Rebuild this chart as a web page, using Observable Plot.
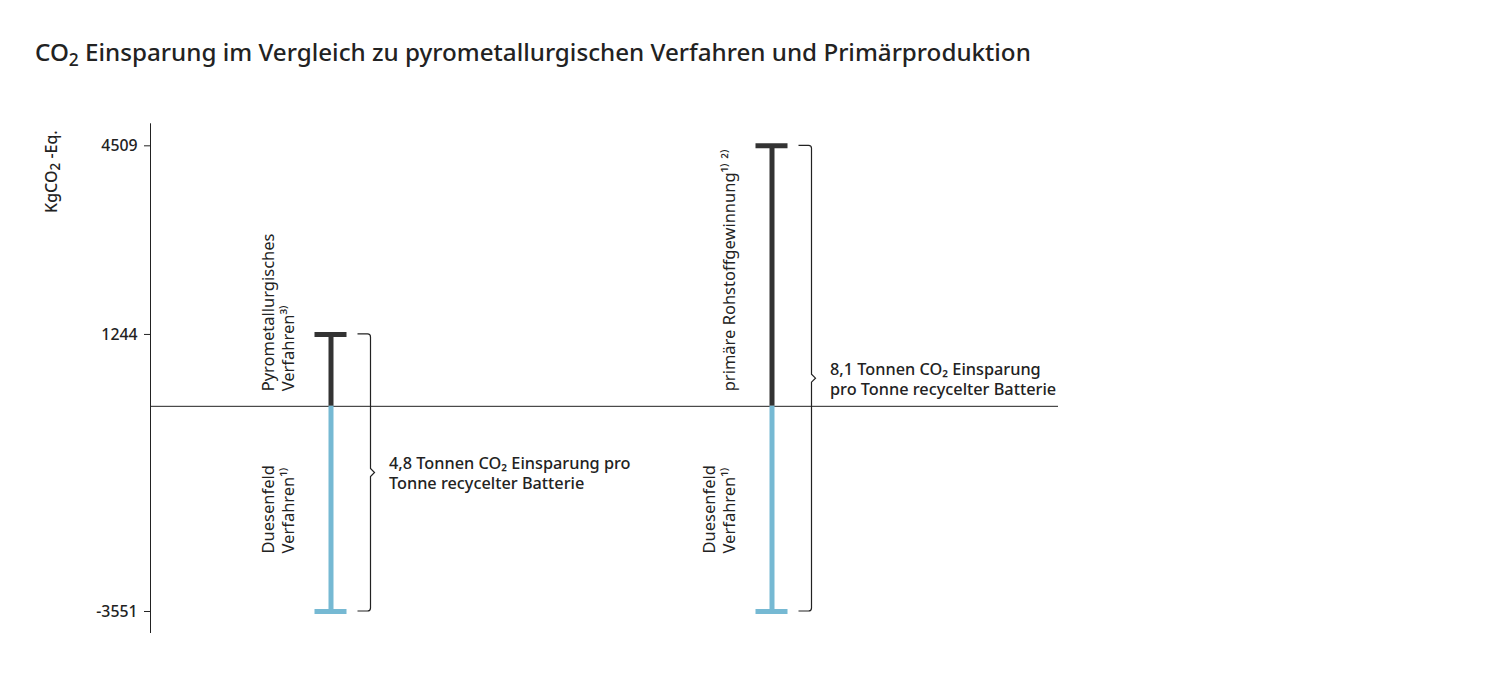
<!DOCTYPE html>
<html>
<head>
<meta charset="utf-8">
<script src="https://cdn.jsdelivr.net/npm/d3@7"></script>
<script src="https://cdn.jsdelivr.net/npm/@observablehq/plot@0.6"></script>
<style>
  html, body { margin: 0; padding: 0; background: #fff; }
  body { width: 1500px; height: 683px; overflow: hidden; font-family: "Noto Sans", sans-serif; color: #222; }
  #head { position: relative; height: 90px; }
  #title { position: absolute; left: 35px; top: 40px; font-size: 24.2px; line-height: 24px; font-weight: 500; white-space: nowrap; color: #222; }
  #title .sub { font-size: 0.72em; position: relative; top: 0.28em; }
  #chart svg { display: block; }
</style>
</head>
<body>
<div id="head"><div id="title">CO<span class="sub">2</span> Einsparung im Vergleich zu pyrometallurgischen Verfahren und Primärproduktion</div></div>
<div id="chart"></div>
<script>
// ---- data ----
const categories = ["Pyrometallurgisches Verfahren", "Primäre Rohstoffgewinnung"];
const comparisonValues = [1244, 4509];
const duesenfeldValues = [-3551, -3551];
const comparisonLabels = ["Pyrometallurgisches\nVerfahren³⁾", "primäre Rohstoffgewinnung¹⁾ ²⁾"];
const duesenfeldLabels = ["Duesenfeld\nVerfahren¹⁾", "Duesenfeld\nVerfahren¹⁾"];
const savingsLabels = ["4,8 Tonnen CO₂ Einsparung pro\nTonne recycelter Batterie", "8,1 Tonnen CO₂ Einsparung\npro Tonne recycelter Batterie"];
const yTicks = [4509, 1244, -3551];
const yLabelParts = ["KgCO", "2", " -Eq."];

const dark = "#333333";
const light = "#76b9d3";
const ink = "#222222";

const comparison = categories.map((cat, i) => ({cat, value: comparisonValues[i], low: duesenfeldValues[i], label: comparisonLabels[i], savings: savingsLabels[i]}));
const duesenfeld = categories.map((cat, i) => ({cat, value: duesenfeldValues[i], label: duesenfeldLabels[i]}));

// braces, left axis line and y-axis title, drawn from the plot's scales
function braces(rows) {
  return (index, scales, values, dimensions) => {
    const g = d3.create("svg:g");
    const {marginLeft, marginTop, marginBottom, height} = dimensions;
    g.append("line")
      .attr("x1", marginLeft + 0.5).attr("x2", marginLeft + 0.5)
      .attr("y1", marginTop).attr("y2", height - marginBottom)
      .attr("stroke", ink).attr("stroke-width", 1);
    const bw = scales.x.bandwidth ? scales.x.bandwidth() : 0;
    for (const r of rows) {
      const cx = scales.x(r.cat) + bw / 2;
      const bx = cx + 40;
      const y1 = scales.y(r.value), y2 = scales.y(r.low), ym = (y1 + y2) / 2;
      const p = `M${cx + 27},${y1}H${bx - 3}Q${bx},${y1} ${bx},${y1 + 3}V${ym - 4}L${bx + 4},${ym}L${bx},${ym + 4}V${y2 - 3}Q${bx},${y2} ${bx - 3},${y2}H${cx + 27}`;
      g.append("path").attr("d", p).attr("fill", "none").attr("stroke", ink).attr("stroke-width", 1.2);
    }
    const t = g.append("text")
      .attr("transform", `translate(${marginLeft - 93},${marginTop + 7}) rotate(-90)`)
      .attr("text-anchor", "end")
      .attr("font-size", 16).attr("font-weight", 500).attr("fill", ink);
    t.append("tspan").text(yLabelParts[0]);
    t.append("tspan").attr("font-size", 13.5).attr("dy", 3).text(yLabelParts[1]);
    t.append("tspan").attr("dy", -3).text(yLabelParts[2]);
    return g.node();
  };
}

const chart = Plot.plot({
  width: 1500,
  height: 593,
  marginTop: 33.3,
  marginBottom: 50,
  marginLeft: 150,
  marginRight: 442,
  style: {fontFamily: "Noto Sans, sans-serif", color: ink, background: "#fff"},
  x: {type: "band", domain: categories, range: [109.5, 991.5], padding: 0, axis: null},
  y: {domain: [-3932, 4890], axis: null},
  marks: [
    Plot.axisY({ticks: yTicks, tickSize: 6, tickPadding: 7, tickFormat: d => String(d), fontSize: 15.8, fontWeight: 500, fill: ink, stroke: ink, label: null}),
    Plot.ruleY([0], {stroke: ink, strokeWidth: 1}),
    Plot.ruleX(comparison, {x: "cat", y1: 0, y2: "value", stroke: dark, strokeWidth: 5}),
    Plot.ruleX(duesenfeld, {x: "cat", y1: 0, y2: "value", stroke: light, strokeWidth: 5}),
    Plot.tickY(comparison, {x: "cat", y: "value", stroke: dark, strokeWidth: 5, insetLeft: 204.5, insetRight: 204.5}),
    Plot.tickY(duesenfeld, {x: "cat", y: "value", stroke: light, strokeWidth: 5, insetLeft: 204.5, insetRight: 204.5}),
    braces(comparison),
    Plot.text(comparison, {x: "cat", y: 0, text: "label", rotate: -90, textAnchor: "start", lineAnchor: "bottom", dx: -37, dy: -15, fontSize: 16.5, lineHeight: 1.2, fill: ink}),
    Plot.text(duesenfeld, {x: "cat", y: "value", text: "label", rotate: -90, textAnchor: "start", lineAnchor: "bottom", dx: -37, dy: -58, fontSize: 16.5, lineHeight: 1.2, fill: ink}),
    Plot.text(comparison, {x: "cat", y: d => (d.value + d.low) / 2, text: "savings", textAnchor: "start", lineAnchor: "middle", dx: 58, fontSize: 16.3, lineHeight: 1.2, fontWeight: 500, fill: ink})
  ]
});
document.getElementById("chart").append(chart);
</script>
</body>
</html>
